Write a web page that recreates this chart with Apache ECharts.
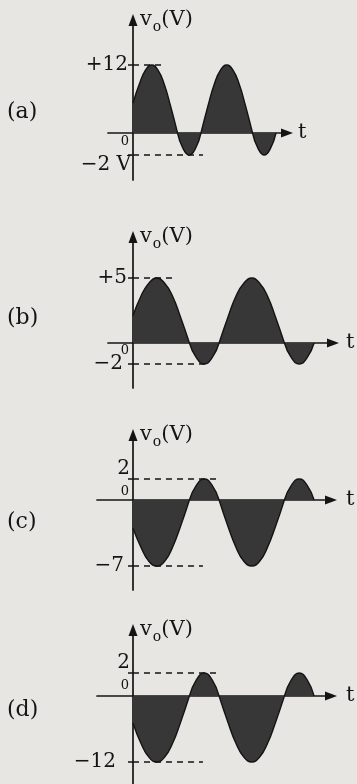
<!DOCTYPE html>
<html lang="en" style="height: 100%">
<head>
  <meta charset="utf-8">
</head>
<body style="height: 100%; margin: 0; background: #e7e6e2">
  <div id="container" style="height: 100%"></div>

  <script type="text/javascript" src="https://cdn.jsdelivr.net/npm/echarts@6/dist/echarts.min.js"></script>

  <script type="text/javascript">
    // time axis in degrees of the input cycle, same sampling for all four sketches
    var phase = [0, 30, 60, 90, 120, 150, 180, 213.75, 240, 270, 300, 326.25,
                 360, 390, 420, 450, 480, 510, 540, 573.75, 600, 630, 660, 686.25];
    var voltsA = [5.3, 8.6, 11.1, 12, 11.1, 8.6, 4.8, 0, -1.4, -2, -1.4, 0,
                  4.8, 8.6, 11.1, 12, 11.1, 8.6, 4.8, 0, -1.4, -2, -1.4, 0];
    var voltsB = [2.1, 3.6, 4.6, 5, 4.6, 3.6, 2, 0, -1.4, -2, -1.4, 0,
                  2, 3.6, 4.6, 5, 4.6, 3.6, 2, 0, -1.4, -2, -1.4, 0];
    var voltsC = [-3, -5, -6.5, -7, -6.5, -5, -2.8, 0, 1.4, 2, 1.4, 0,
                  -2.8, -5, -6.5, -7, -6.5, -5, -2.8, 0, 1.4, 2, 1.4, 0];
    var voltsD = [-4.9, -8.6, -11.1, -12, -11.1, -8.6, -4.8, 0, 1.4, 2, 1.4, 0,
                  -4.8, -8.6, -11.1, -12, -11.1, -8.6, -4.8, 0, 1.4, 2, 1.4, 0];
    var panelNames = ['(a)', '(b)', '(c)', '(d)'];
    var levelValues = [[12, -2], [5, -2], [2, -7], [2, -12]];
    var levelLabels = [['+12', '−2 V'], ['+5', '−2'], ['2', '−7'], ['2', '−12']];
    var dashEnds = [[154, 336], [155, 273], [322, 265], [322, 265]];

    var voltSets = [voltsA, voltsB, voltsC, voltsD];

    // pixel layout of each sketch (the book drew the halves at different scales)
    var layout = [
      {tag: 112, left: 108, axisX: 133, end: 287, tX: 298, top: 20, zero: 133, bottom: 180, period: 75,
       hiY: 65, loY: 155, hiAlign: 'middle', loAlign: 'top', hiMargin: 5, loMargin: 2, zeroDy: 9},
      {tag: 318, left: 108, axisX: 133, end: 333, tX: 346, top: 237, zero: 343, bottom: 388, period: 95,
       hiY: 278, loY: 364, hiAlign: 'middle', loAlign: 'middle', hiMargin: 6, loMargin: 10, zeroDy: 8},
      {tag: 522, left: 97, axisX: 133, end: 331, tX: 346, top: 435, zero: 500, bottom: 590, period: 95,
       hiY: 479, loY: 566, hiAlign: 'bottom', loAlign: 'middle', hiMargin: 3, loMargin: 9, zeroDy: -8},
      {tag: 710, left: 97, axisX: 133, end: 331, tX: 346, top: 630, zero: 696, bottom: 790, period: 95,
       hiY: 673, loY: 762, hiAlign: 'bottom', loAlign: 'middle', hiMargin: 3, loMargin: 17, zeroDy: -10}
    ];

    var ink = '#141414';
    var shade = '#373737';
    var serif = '"DejaVu Serif", "Liberation Serif", serif';

    var dom = document.getElementById('container');
    var myChart = echarts.init(dom, null, { renderer: 'canvas' });

    var grids = [], xAxes = [], yAxes = [], series = [], graphics = [];

    voltSets.forEach(function (volts, i) {
      var L = layout[i];
      var pxPerDeg = L.period / 360;
      var xMin = -(L.axisX - L.left) / pxPerDeg;
      var xMax = (L.end - L.axisX) / pxPerDeg;
      var hi = levelValues[i][0], lo = levelValues[i][1];
      var yMax = hi * (L.zero - L.top) / (L.zero - L.hiY);
      var yMin = lo * (L.bottom - L.zero) / (L.loY - L.zero);
      var up = i * 2, dn = i * 2 + 1;
      // labels are laid out from the grid edge, not from the shifted axis line
      var shift = L.axisX - L.left;
      var axisLineStyle = { color: ink, width: 1.7 };

      grids.push({ left: L.left, top: L.top, width: L.end - L.left, height: L.zero - L.top,
                   containLabel: false, outerBoundsMode: 'none' });
      grids.push({ left: L.left, top: L.zero, width: L.end - L.left, height: L.bottom - L.zero,
                   containLabel: false, outerBoundsMode: 'none' });

      xAxes.push({
        gridIndex: up, type: 'value', min: xMin, max: xMax,
        axisLine: { onZero: true, symbol: ['none', 'triangle'], symbolSize: [9, 12], lineStyle: axisLineStyle },
        axisTick: { show: false }, axisLabel: { show: false }, splitLine: { show: false },
        name: 't', nameLocation: 'end', nameGap: L.tX - L.end, nameMoveOverlap: false,
        nameTextStyle: { color: ink, fontFamily: serif, fontSize: 21, align: 'left', verticalAlign: 'middle' }
      });
      xAxes.push({
        gridIndex: dn, type: 'value', min: xMin, max: xMax,
        axisLine: { show: false }, axisTick: { show: false }, axisLabel: { show: false }, splitLine: { show: false }
      });

      yAxes.push({
        gridIndex: up, type: 'value', min: 0, max: yMax,
        axisLine: { onZero: true, symbol: ['none', 'triangle'], symbolSize: [9, 12], lineStyle: axisLineStyle },
        axisTick: { customValues: [hi], length: 5, lineStyle: { color: ink, width: 1.5 } },
        axisLabel: {
          customValues: [hi], formatter: function () { return levelLabels[i][0]; },
          margin: L.hiMargin - shift, verticalAlign: L.hiAlign, color: ink, fontFamily: serif, fontSize: 20
        },
        splitLine: { show: false },
        name: '{v|v}{o|o}{v|(V)}', nameLocation: 'end', nameGap: 11, nameMoveOverlap: false,
        nameTextStyle: {
          align: 'left', verticalAlign: 'top', padding: [0, 0, 0, 7],
          rich: {
            v: { color: ink, fontFamily: serif, fontSize: 21, verticalAlign: 'top' },
            o: { color: ink, fontFamily: serif, fontSize: 14, padding: [11, 0, 0, 1], verticalAlign: 'top' }
          }
        }
      });
      yAxes.push({
        gridIndex: dn, type: 'value', min: yMin, max: 0,
        axisLine: { onZero: true, lineStyle: axisLineStyle },
        axisTick: { customValues: [lo], length: 5, lineStyle: { color: ink, width: 1.5 } },
        axisLabel: {
          customValues: [lo], formatter: function () { return levelLabels[i][1]; },
          margin: L.loMargin - shift, verticalAlign: L.loAlign, color: ink, fontFamily: serif, fontSize: 20
        },
        splitLine: { show: false }
      });

      var dashStyle = { color: ink, type: [6, 5], width: 1.5 };
      var wave = {
        type: 'line', smooth: 0.5, showSymbol: false, silent: true, animation: false,
        connectNulls: false,
        lineStyle: { color: ink, width: 1.4 },
        areaStyle: { color: shade, opacity: 1 }
      };
      series.push(Object.assign({}, wave, {
        xAxisIndex: up, yAxisIndex: up,
        data: phase.map(function (t, k) { return [t, volts[k] >= 0 ? volts[k] : null]; }),
        markLine: { silent: true, symbol: 'none', label: { show: false }, lineStyle: dashStyle,
                    data: [[{ coord: [0, hi] }, { coord: [dashEnds[i][0], hi] }]] }
      }));
      series.push(Object.assign({}, wave, {
        xAxisIndex: dn, yAxisIndex: dn,
        data: phase.map(function (t, k) { return [t, volts[k] <= 0 ? volts[k] : null]; }),
        markLine: { silent: true, symbol: 'none', label: { show: false }, lineStyle: dashStyle,
                    data: [[{ coord: [0, lo] }, { coord: [dashEnds[i][1], lo] }]] }
      }));

      graphics.push({
        type: 'text', x: 7, y: L.tag, silent: true,
        style: { text: panelNames[i], fill: ink, font: '22px ' + serif, align: 'left', verticalAlign: 'middle' }
      });
      graphics.push({
        type: 'text', x: L.axisX - 4, y: L.zero + L.zeroDy, silent: true,
        style: { text: '0', fill: ink, font: '13px ' + serif, align: 'right', verticalAlign: 'middle' }
      });
    });

    var option = {
      backgroundColor: '#e7e6e2',
      animation: false,
      grid: grids,
      xAxis: xAxes,
      yAxis: yAxes,
      series: series,
      graphic: graphics
    };

    myChart.setOption(option);
    window.addEventListener('resize', myChart.resize);
  </script>
</body>
</html>
